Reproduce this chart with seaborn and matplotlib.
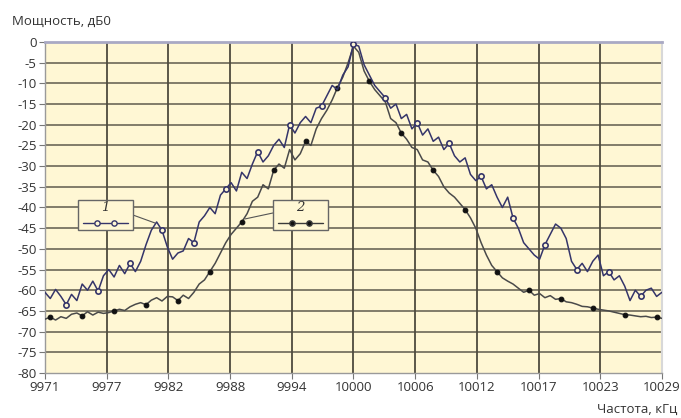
import numpy as np
import pandas as pd
import matplotlib
matplotlib.use("Agg")
import matplotlib.pyplot as plt
import seaborn as sns
from matplotlib.patches import Rectangle
from matplotlib.lines import Line2D

# ---- data ----
freq_khz = np.arange(9971.0, 10029.01, 0.5)  # frequency axis, 0.5 kHz step

power_1 = [
    -60.5, -62.0, -59.8, -61.5, -63.5, -61.0, -62.5, -58.5, -60.0, -57.8,
    -60.2, -56.5, -55.0, -56.8, -54.0, -56.0, -53.5, -55.5, -53.0, -49.0,
    -45.5, -43.5, -45.5, -49.5, -52.5, -51.0, -50.5, -47.5, -48.5, -43.5,
    -42.0, -40.0, -41.5, -37.0, -35.5, -34.0, -36.0, -31.5, -33.0, -29.5,
    -26.5, -29.0, -27.5, -25.0, -23.5, -25.5, -20.0, -22.0, -19.5, -18.0,
    -19.5, -16.0, -15.5, -13.0, -10.5, -11.5, -8.0, -6.0, -0.5, -1.0,
    -5.5, -8.0, -10.5, -12.0, -13.5, -16.0, -15.0, -18.5, -17.5, -21.0,
    -19.5, -22.5, -21.0, -24.0, -23.0, -26.0, -24.5, -27.5, -29.0, -28.0,
    -32.0, -33.5, -32.5, -35.5, -34.5, -37.5, -40.0, -37.5, -42.5, -45.0,
    -48.5, -50.0, -51.5, -52.5, -49.0, -46.5, -44.0, -45.0, -47.5, -53.0,
    -55.0, -53.5, -55.5, -53.0, -51.5, -56.5, -55.5, -57.5, -56.5, -59.0,
    -62.5, -60.0, -61.5, -60.0, -59.5, -61.5, -60.5,
]

power_2 = [
    -67.0, -66.5, -67.2, -66.4, -66.8, -65.8, -65.5, -66.2, -65.2, -66.0,
    -65.3, -65.6, -65.4, -65.0, -64.6, -64.9, -64.0, -63.4, -63.0, -63.5,
    -62.4, -61.8, -62.6, -61.5, -61.6, -62.5, -61.2, -62.0, -60.5, -58.5,
    -57.5, -55.5, -53.5, -51.0, -48.5, -46.5, -45.0, -43.5, -41.5, -38.5,
    -37.5, -34.5, -35.5, -31.0, -29.5, -30.5, -26.0, -28.5, -27.0, -24.0,
    -25.0, -21.0, -18.5, -16.5, -14.0, -11.0, -8.5, -5.0, -1.0, -2.5,
    -7.0, -9.5, -11.5, -13.0, -14.5, -18.5, -19.5, -22.0, -23.5, -25.5,
    -26.0, -28.5, -29.0, -31.0, -32.5, -35.0, -36.5, -37.5, -39.0, -40.5,
    -42.5, -45.0, -48.5, -51.5, -54.0, -55.5, -57.0, -57.8, -58.5, -59.5,
    -60.5, -60.0, -61.2, -60.8, -61.8, -61.3, -62.2, -62.0, -62.8, -63.0,
    -63.4, -63.9, -64.0, -64.3, -64.6, -64.8, -65.0, -65.3, -65.6, -65.9,
    -66.0, -66.2, -66.4, -66.3, -66.6, -66.5, -66.8,
]

x_tick_labels = ["9971", "9977", "9982", "9988", "9994", "10000",
                 "10006", "10012", "10017", "10023", "10029"]
y_ticks = list(range(0, -85, -5))

assert len(power_1) == len(freq_khz) and len(power_2) == len(freq_khz)

# ---- style ----
sns.set_theme(style="white")
plt.rcParams["font.family"] = ["Open Sans", "DejaVu Sans"]

BG = "#FFF7D4"
C1 = "#35356A"
C2 = "#3A3A3A"
GRID = "#4E4B3E"

fig = plt.figure(figsize=(6.81, 4.18), dpi=100)
ax = fig.add_axes([0.066, 0.1077, 0.906, 0.7918])
ax.set_facecolor(BG)

df = pd.DataFrame({"f": freq_khz, "p1": power_1, "p2": power_2})

sns.lineplot(data=df, x="f", y="p2", ax=ax, color="#4A4A4A", lw=1.1,
             marker="o", markersize=3.4, markerfacecolor="#111111",
             markeredgecolor="#111111", markevery=(1, 6), zorder=3)
sns.lineplot(data=df, x="f", y="p1", ax=ax, color=C1, lw=1.1,
             marker="o", markersize=3.8, markerfacecolor=BG,
             markeredgecolor=C1, markeredgewidth=1.2,
             markevery=(4, 6), zorder=4)

x0, x1 = 9971.0, 10029.0
xt = np.linspace(x0, x1, len(x_tick_labels))
ax.set_xlim(x0, x1)
ax.set_ylim(-80, 0)
ax.set_xticks(xt)
ax.set_xticklabels(x_tick_labels)
ax.set_yticks(y_ticks)
ax.set_yticklabels([str(v) for v in y_ticks])

for v in xt[1:-1]:
    ax.axvline(v, color=GRID, lw=1.3, zorder=1)
for v in y_ticks[1:-1]:
    ax.axhline(v, color=GRID, lw=1.1, alpha=0.9, zorder=1)

for s in ["left", "bottom"]:
    ax.spines[s].set_color("#9A9A9A")
    ax.spines[s].set_linewidth(1.0)
ax.spines["top"].set_color("#A9A9C4")
ax.spines["top"].set_linewidth(2.0)
ax.spines["right"].set_color("#D8D8D8")
ax.spines["right"].set_linewidth(1.5)

ax.tick_params(axis="both", which="major", length=4, width=0.8,
               color="#777777", labelsize=9.5, labelcolor="#333333",
               direction="out", left=True, bottom=True, pad=2)
ax.set_xlabel("")
ax.set_ylabel("")

fig.text(0.018, 0.950, "Мощность, дБ0", fontsize=9.5, color="#333333",
         ha="left", va="center")
fig.text(0.995, 0.020, "Частота, кГц", fontsize=9.5, color="#333333",
         ha="right", va="center")

# ---- labelled callout boxes ----
def callout(x_left, x_right, label, edge, mfc, leader):
    ax.add_patch(Rectangle((x_left, 0.432), x_right - x_left, 0.0907,
                           transform=ax.transAxes, facecolor=BG,
                           edgecolor="#666666", lw=1.0, zorder=6))
    ax.text((x_left + x_right) / 2, 0.500, label, transform=ax.transAxes,
            fontsize=9.5, style="italic", ha="center", va="center",
            color="#333333", zorder=7, family="DejaVu Serif")
    w = x_right - x_left
    ax.add_line(Line2D([x_left + 0.09 * w, x_right - 0.09 * w], [0.452, 0.452],
                       transform=ax.transAxes, color=edge, lw=1.0, zorder=7))
    ax.add_line(Line2D([x_left + 0.35 * w, x_left + 0.65 * w], [0.452, 0.452],
                       transform=ax.transAxes, color=edge, lw=0, marker="o",
                       markersize=3.8, markerfacecolor=mfc,
                       markeredgecolor=edge, zorder=8))
    ax.add_line(Line2D(leader[0], leader[1], transform=ax.transAxes,
                       color="#555555", lw=0.8, zorder=5))

callout(0.0535, 0.1426, "1", C1, BG, ([0.1426, 0.1783], [0.4773, 0.4532]))
callout(0.3695, 0.4587, "2", C2, "#111111", ([0.3695, 0.3240], [0.4834, 0.4653]))

fig.savefig("out.png", dpi=100, facecolor="white")
